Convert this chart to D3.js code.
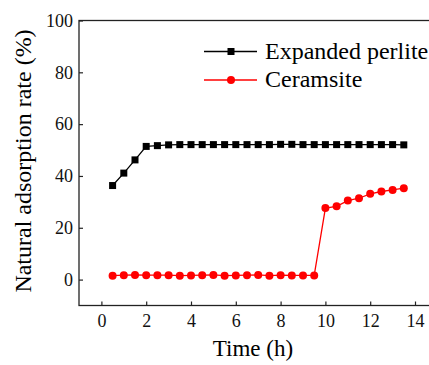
<!DOCTYPE html>
<html>
<head>
<meta charset="utf-8">
<script src="https://cdn.jsdelivr.net/npm/d3@7"></script>
<style>
  body { margin: 0; background: #fff; }
</style>
</head>
<body>
<div id="container"></div>
<script>
//data
const times = [0.5, 1, 1.5, 2, 2.5, 3, 3.5, 4, 4.5, 5, 5.5, 6, 6.5, 7, 7.5, 8, 8.5, 9, 9.5,
  10, 10.5, 11, 11.5, 12, 12.5, 13, 13.5]
const perlite = [36.3, 41.1, 46.2, 51.4, 51.7, 52.0, 52.1, 52.1, 52.1, 52.1, 52.1, 52.1, 52.1, 52.1,
  52.1, 52.2, 52.2, 52.1, 52.1, 52.1, 52.1, 52.1, 52.1, 52.1, 52.1, 52.1, 52.0]
const ceramsite = [1.5, 1.7, 1.8, 1.7, 1.7, 1.7, 1.5, 1.6, 1.7, 1.8, 1.5, 1.6, 1.7, 1.8, 1.5, 1.7, 1.6, 1.6, 1.6,
  27.6, 28.3, 30.5, 31.4, 33.1, 34.0, 34.6, 35.3]
const xTicks = [0, 2, 4, 6, 8, 10, 12, 14]
const yTicks = [0, 20, 40, 60, 80, 100]
const seriesNames = ["Expanded perlite", "Ceramsite"]

const font = '"Liberation Serif", "Times New Roman", serif'
const width = 429, height = 365
const margin = {left: 79, top: 20.5, bottom: 305.5}

let svg = d3.select("#container")
    .append("svg")
    .attr("width", width)
    .attr("height", height)

//x domain runs past the right edge of the picture
let x = d3.scaleLinear().domain([-1, 15]).range([margin.left, margin.left + 16 * 22.4])
let y = d3.scaleLinear().domain([-10, 100]).range([margin.bottom, margin.top])

//frame
svg.append("rect")
    .attr("x", x(-1)).attr("y", y(100))
    .attr("width", x(15) - x(-1)).attr("height", y(-10) - y(100))
    .attr("fill", "none").attr("stroke", "#222").attr("stroke-width", 1.3)

//x axis, ticks pointing in
let xAxis = svg.append("g")
    .attr("transform", `translate(0,${y(-10)})`)
    .call(d3.axisBottom(x).tickValues(xTicks).tickSizeInner(-4).tickSizeOuter(0).tickPadding(9))
xAxis.select(".domain").remove()
xAxis.selectAll("line").attr("stroke", "#222").attr("stroke-width", 1.2)
xAxis.selectAll("text").style("font-size", "18px").style("font-family", font).attr("fill", "#111")

//y axis
let yAxis = svg.append("g")
    .attr("transform", `translate(${x(-1)},0)`)
    .call(d3.axisLeft(y).tickValues(yTicks).tickSizeInner(-4).tickSizeOuter(0).tickPadding(6))
yAxis.select(".domain").remove()
yAxis.selectAll("line").attr("stroke", "#222").attr("stroke-width", 1.2)
yAxis.selectAll("text").style("font-size", "18px").style("font-family", font).attr("fill", "#111")

//axis titles
svg.append("text")
    .attr("x", 253).attr("y", 356)
    .attr("text-anchor", "middle")
    .style("font-size", "23px").style("font-family", font)
    .text("Time (h)")

svg.append("text")
    .attr("transform", "translate(31,161) rotate(-90)")
    .attr("text-anchor", "middle")
    .style("font-size", "24px").style("font-family", font)
    .text("Natural adsorption rate (%)")

//lines
let line = d3.line().x(d => x(d[0])).y(d => y(d[1]))

svg.append("path")
    .datum(d3.zip(times, perlite))
    .attr("d", line)
    .attr("fill", "none").attr("stroke", "#000").attr("stroke-width", 1.3)

svg.append("path")
    .datum(d3.zip(times, ceramsite))
    .attr("d", line)
    .attr("fill", "none").attr("stroke", "#f00").attr("stroke-width", 1.3)

//markers
svg.selectAll(null)
    .data(d3.zip(times, perlite))
    .enter().append("rect")
    .attr("x", d => x(d[0]) - 3.5)
    .attr("y", d => y(d[1]) - 3.5)
    .attr("width", 7).attr("height", 7)
    .attr("fill", "#000")

svg.selectAll(null)
    .data(d3.zip(times, ceramsite))
    .enter().append("circle")
    .attr("cx", d => x(d[0]))
    .attr("cy", d => y(d[1]))
    .attr("r", 4)
    .attr("fill", "#f00")

//legend
let legend = svg.append("g")
const legY = [51.5, 80]
legend.append("line").attr("x1", 204).attr("x2", 257).attr("y1", legY[0]).attr("y2", legY[0])
    .attr("stroke", "#000").attr("stroke-width", 1.3)
legend.append("rect").attr("x", 231 - 3.5).attr("y", legY[0] - 3.5).attr("width", 7).attr("height", 7)
    .attr("fill", "#000")
legend.append("line").attr("x1", 204).attr("x2", 257).attr("y1", legY[1]).attr("y2", legY[1])
    .attr("stroke", "#f00").attr("stroke-width", 1.3)
legend.append("circle").attr("cx", 231).attr("cy", legY[1]).attr("r", 4).attr("fill", "#f00")

legend.selectAll(null)
    .data(seriesNames)
    .enter().append("text")
    .attr("x", 265)
    .attr("y", (d, i) => legY[i] + 7)
    .style("font-size", "24px").style("font-family", font)
    .text(d => d)
</script>
</body>
</html>
